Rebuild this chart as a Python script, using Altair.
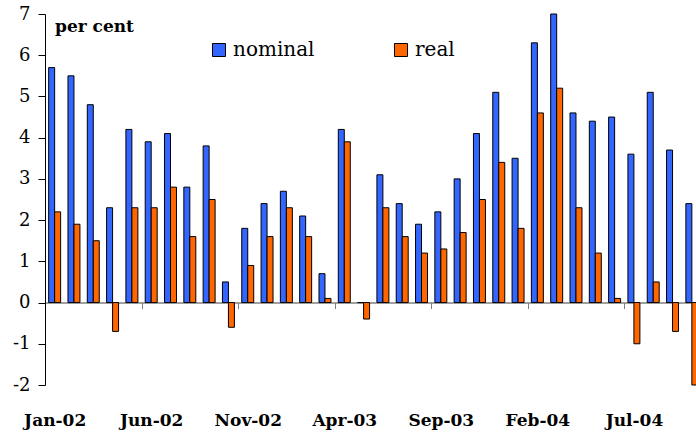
import altair as alt
import pandas as pd

# Monthly labels, Jan-02 through Oct-04
month_names = ["Jan", "Feb", "Mar", "Apr", "May", "Jun",
               "Jul", "Aug", "Sep", "Oct", "Nov", "Dec"]
months = [f"{m}-{y:02d}" for y in (2, 3, 4) for m in month_names][:34]

# Annual growth, per cent
nominal = [5.7, 5.5, 4.8, 2.3, 4.2, 3.9, 4.1, 2.8, 3.8, 0.5,
           1.8, 2.4, 2.7, 2.1, 0.7, 4.2, 0.0, 3.1, 2.4, 1.9,
           2.2, 3.0, 4.1, 5.1, 3.5, 6.3, 7.0, 4.6, 4.4, 4.5,
           3.6, 5.1, 3.7, 2.4]
real = [2.2, 1.9, 1.5, -0.7, 2.3, 2.3, 2.8, 1.6, 2.5, -0.6,
        0.9, 1.6, 2.3, 1.6, 0.1, 3.9, -0.4, 2.3, 1.6, 1.2,
        1.3, 1.7, 2.5, 3.4, 1.8, 4.6, 5.2, 2.3, 1.2, 0.1,
        -1.0, 0.5, -0.7, -2.0]

series = ["nominal", "real"]
colors = ["#3366FF", "#FF6600"]
shown_months = months[::5]
y_ticks = list(range(-2, 8))

df = pd.DataFrame({
    "month": months * 2,
    "series": ["nominal"] * len(months) + ["real"] * len(months),
    "value": nominal + real,
})

FONT = "DejaVu Serif"
W, H = 651, 371
RANGE_END = 656.5           # plot runs slightly past the right edge
STEP = RANGE_END / len(months)
P_IN = 0.38
HALF_GAP = P_IN * STEP / 2
ZERO_FROM_BOTTOM = H * 2 / 9

chart = (
    alt.Chart(df)
    .mark_bar(stroke="black", strokeWidth=1)
    .encode(
        x=alt.X(
            "month:N",
            sort=months,
            scale=alt.Scale(range=[0, RANGE_END], paddingInner=P_IN, paddingOuter=P_IN / 2),
            axis=alt.Axis(
                title=None,
                values=shown_months,
                orient="bottom",
                offset=-ZERO_FROM_BOTTOM,
                bandPosition=0,
                tickOffset=-HALF_GAP,
                labelOffset=HALF_GAP,
                tickSize=6,
                tickColor="#808080",
                domainColor="#808080",
                domainWidth=1.5,
                labelAngle=0,
                labelFont=FONT,
                labelFontSize=17,
                labelFontWeight="bold",
                labelColor="black",
                labelPadding=104,
                grid=False,
            ),
        ),
        xOffset=alt.XOffset("series:N", sort=series,
                            scale=alt.Scale(paddingInner=0, paddingOuter=0)),
        y=alt.Y(
            "value:Q",
            scale=alt.Scale(domain=[-2, 7], nice=False, zero=False),
            axis=alt.Axis(
                title=None,
                values=y_ticks,
                labelExpr="'' + datum.value",
                tickSize=7,
                tickColor="black",
                domainColor="black",
                labelFont=FONT,
                labelFontSize=18,
                labelColor="black",
                labelPadding=8,
                grid=False,
            ),
        ),
        color=alt.Color(
            "series:N",
            sort=series,
            scale=alt.Scale(domain=series, range=colors),
            legend=alt.Legend(
                title=None,
                orient="none",
                direction="horizontal",
                legendX=164,
                legendY=26,
                symbolType="square",
                symbolSize=169,
                symbolStrokeColor="black",
                symbolStrokeWidth=1,
                symbolOpacity=1,
                labelFont=FONT,
                labelFontSize=20,
                labelColor="black",
                labelOffset=4,
                columnPadding=76,
                padding=0,
            ),
        ),
    )
    .properties(
        width=W,
        height=H,
        title=alt.Title(
            "per cent",
            anchor="start",
            frame="group",
            font=FONT,
            fontSize=17,
            fontWeight="bold",
            color="black",
            baseline="alphabetic",
            offset=-44,
            dx=10,
        ),
        autosize=alt.AutoSizeParams(type="none"),
        padding={"left": 45, "top": 14, "right": 0, "bottom": 49},
    )
    .configure_view(stroke=None)
)

chart.save("out.html", embed_options={"renderer": "svg", "actions": False})
